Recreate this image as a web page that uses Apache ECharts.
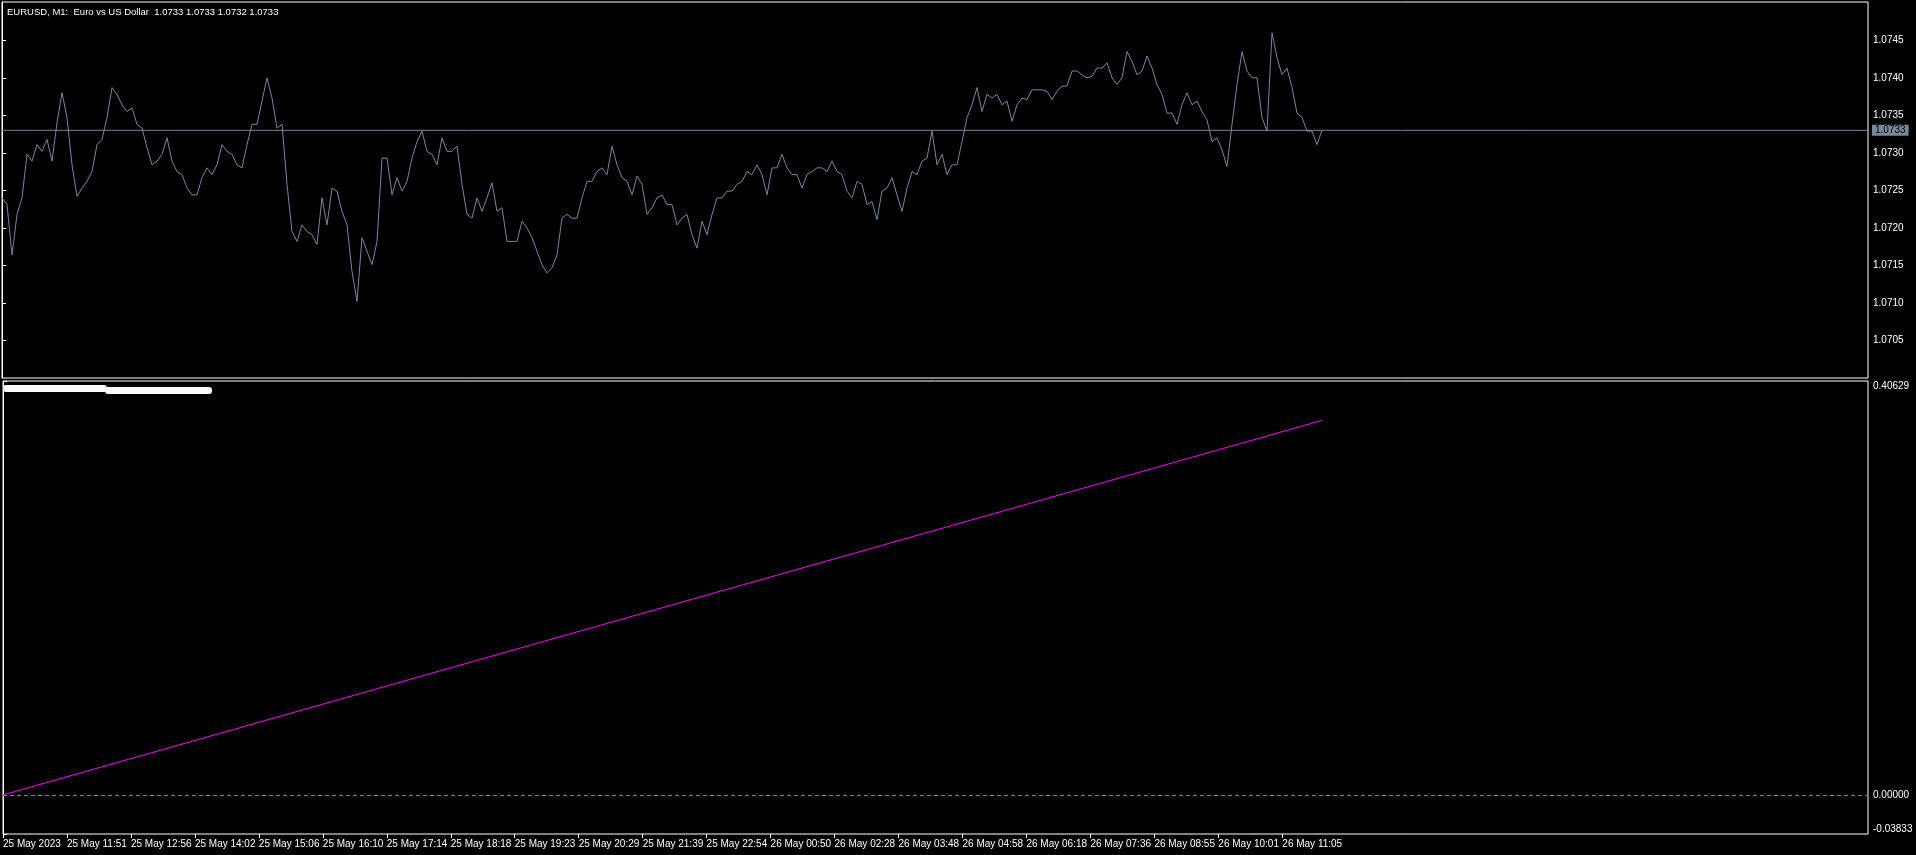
<!DOCTYPE html>
<html>
<head>
<meta charset="utf-8">
<title>EURUSD M1</title>
<script src="https://cdn.jsdelivr.net/npm/echarts@6/dist/echarts.min.js"></script>
<style>
  html, body { margin: 0; padding: 0; background: #000; }
  #main { width: 1916px; height: 855px; }
</style>
</head>
<body>
<div id="main"></div>
<script type="text/javascript">
// close prices, one every 5 bars (1 bar = 1 px)
var closePrices = [
  1.07240,1.07231,1.07164,1.07218,1.07240,1.07298,1.07289,1.07311,1.07302,1.07318,1.07289,1.07340,1.07380,1.07347,1.07284,1.07242,1.07253,1.07262,1.07275,1.07311,1.07318,1.07347,1.07387,1.07378,1.07364,1.07355,1.07360,1.07338,1.07333,1.07307,1.07284,1.07289,1.07298,1.07320,1.07289,1.07275,1.07271,1.07253,1.07244,1.07244,1.07267,1.07280,1.07271,1.07284,1.07311,1.07302,1.07298,1.07284,1.07280,1.07311,1.07338,1.07338,1.07369,1.07400,1.07373,1.07333,1.07338,1.07258,1.07195,1.07182,1.07204,1.07195,1.07191,1.07178,1.07240,1.07204,1.07253,1.07249,1.07222,
  1.07204,1.07142,1.07102,1.07187,1.07169,1.07151,1.07182,1.07293,1.07293,1.07244,1.07267,1.07249,1.07262,1.07293,1.07315,1.07329,1.07302,1.07298,1.07284,1.07320,1.07302,1.07302,1.07309,1.07258,1.07218,1.07213,1.07240,1.07222,1.07240,1.07260,1.07222,1.07227,1.07182,1.07182,1.07182,1.07209,1.07200,1.07187,1.07169,1.07151,1.07140,1.07147,1.07164,1.07213,1.07218,1.07213,1.07213,1.07240,1.07262,1.07262,1.07275,1.07280,1.07271,1.07309,1.07284,1.07267,1.07262,1.07244,1.07269,1.07258,1.07218,1.07227,1.07240,1.07244,1.07231,1.07231,
  1.07204,1.07213,1.07218,1.07191,1.07173,1.07209,1.07191,1.07218,1.07240,1.07240,1.07249,1.07249,1.07258,1.07262,1.07275,1.07271,1.07284,1.07271,1.07244,1.07280,1.07280,1.07298,1.07280,1.07271,1.07271,1.07253,1.07271,1.07275,1.07280,1.07280,1.07275,1.07289,1.07275,1.07271,1.07249,1.07240,1.07262,1.07258,1.07231,1.07235,1.07211,1.07249,1.07253,1.07267,1.07244,1.07222,1.07253,1.07275,1.07271,1.07289,1.07293,1.07329,1.07284,1.07298,1.07271,1.07284,1.07284,1.07315,1.07347,1.07364,1.07387,1.07355,1.07378,1.07373,1.07378,1.07364,
  1.07369,1.07342,1.07364,1.07373,1.07371,1.07384,1.07384,1.07384,1.07382,1.07371,1.07382,1.07389,1.07389,1.07409,1.07409,1.07404,1.07400,1.07402,1.07413,1.07413,1.07420,1.07400,1.07391,1.07400,1.07435,1.07422,1.07404,1.07409,1.07429,1.07413,1.07391,1.07378,1.07353,1.07353,1.07338,1.07364,1.07380,1.07364,1.07369,1.07355,1.07344,1.07315,1.07320,1.07304,1.07282,1.07338,1.07391,1.07435,1.07409,1.07400,1.07400,1.07347,1.07329,1.07460,1.07427,1.07404,1.07413,1.07387,1.07353,1.07347,1.07329,1.07329,1.07311,1.07330
];
var barStep = 5;

var timeLabels = ['25 May 2023', '25 May 11:51', '25 May 12:56', '25 May 14:02', '25 May 15:06', '25 May 16:10',
  '25 May 17:14', '25 May 18:18', '25 May 19:23', '25 May 20:29', '25 May 21:39', '25 May 22:54',
  '26 May 00:50', '26 May 02:28', '26 May 03:48', '26 May 04:58', '26 May 06:18', '26 May 07:36',
  '26 May 08:55', '26 May 10:01', '26 May 11:05'];
var labelEvery = 64; // bars between two time labels

var priceTicks = [1.0705, 1.0710, 1.0715, 1.0720, 1.0725, 1.0730, 1.0735, 1.0740, 1.0745];
var lastPrice = 1.0733;

// indicator pane: straight line from first to last bar
var indicatorValues = [0, 0.3677];
var indicatorTicks = [-0.03833, 0, 0.40629];

var chartTitle = 'EURUSD, M1:  Euro vs US Dollar  1.0733 1.0733 1.0732 1.0733';

var myChart = echarts.init(document.getElementById('main'));

var barsShown = 1866;
var lastBar = (closePrices.length - 1) * barStep;
var priceData = closePrices.map(function (p, i) { return [i * barStep, p]; });
var indicatorData = [[0, indicatorValues[0]], [lastBar, indicatorValues[1]]];
var timeTickBars = timeLabels.map(function (t, i) { return i * labelEvery; });

var fontName = 'Liberation Sans';
var white = '#ffffff';
var slate = '#778899';

var option = {
    backgroundColor: '#000000',
    animation: false,
    title: {
        text: chartTitle,
        left: 2,
        top: 2,
        textStyle: { color: white, fontSize: 9.5, fontWeight: 'normal', fontFamily: fontName }
    },
    grid: [
        { left: 2, right: 48, top: 2, bottom: 477, show: true, borderColor: white, borderWidth: 1 },
        { left: 2, right: 48, top: 381, bottom: 21, show: true, borderColor: white, borderWidth: 1 }
    ],
    xAxis: [
        { type: 'value', gridIndex: 0, min: 0, max: barsShown, show: false },
        {
            type: 'value', gridIndex: 1, min: 0, max: barsShown,
            axisLine: { show: false, onZero: false },
            splitLine: { show: false },
            axisTick: { show: true, customValues: timeTickBars, length: 4, lineStyle: { color: white } },
            axisLabel: {
                customValues: timeTickBars, align: 'left', margin: 5,
                color: white, fontSize: 10, fontFamily: fontName,
                formatter: function (v) { return timeLabels[Math.round(v / labelEvery)] || ''; }
            }
        }
    ],
    yAxis: [
        {
            type: 'value', gridIndex: 0, position: 'right', min: 1.0700, max: 1.07501,
            axisLine: { show: true, lineStyle: { color: white } },
            splitLine: { show: false },
            axisTick: { show: true, customValues: priceTicks, length: 4, lineStyle: { color: white } },
            axisLabel: {
                customValues: priceTicks, margin: 5, color: white, fontSize: 10, fontFamily: fontName,
                formatter: function (v) { return v.toFixed(4); }
            }
        },
        {
            type: 'value', gridIndex: 1, position: 'right', min: indicatorTicks[0], max: indicatorTicks[2],
            axisLine: { show: true, lineStyle: { color: white } },
            splitLine: { show: false },
            axisTick: { show: true, customValues: indicatorTicks, length: 4, lineStyle: { color: white } },
            axisLabel: {
                customValues: indicatorTicks, margin: 5, color: white, fontSize: 10, fontFamily: fontName,
                verticalAlignMaxLabel: 'top', verticalAlignMinLabel: 'bottom',
                formatter: function (v) { return v.toFixed(5); }
            }
        }
    ],
    series: [
        {
            name: 'EURUSD',
            type: 'line',
            xAxisIndex: 0,
            yAxisIndex: 0,
            data: priceData,
            showSymbol: false,
            lineStyle: { color: slate, width: 1 }
        },
        {
            // current price line with its tag on the price scale
            name: 'last',
            type: 'line',
            xAxisIndex: 0,
            yAxisIndex: 0,
            data: [[0, lastPrice], [barsShown, lastPrice]],
            showSymbol: false,
            silent: true,
            lineStyle: { color: slate, width: 1 },
            endLabel: {
                show: true, distance: 4,
                formatter: function () { return lastPrice.toFixed(4); },
                backgroundColor: slate, color: '#000', fontSize: 10, fontFamily: fontName,
                padding: [1, 3, 0, 3]
            }
        },
        {
            name: 'indicator',
            type: 'line',
            xAxisIndex: 1,
            yAxisIndex: 1,
            data: indicatorData,
            showSymbol: false,
            lineStyle: { color: '#ff00ff', width: 1 },
            markLine: {
                silent: true,
                symbol: 'none',
                lineStyle: { color: '#808080', type: [4, 3], width: 1 },
                label: { show: false },
                data: [{ yAxis: 0 }]
            }
        }
    ],
    graphic: [
        { type: 'rect', shape: { x: 3, y: 385, width: 104, height: 7, r: 3 }, style: { fill: white } },
        { type: 'rect', shape: { x: 105, y: 387, width: 107, height: 7, r: 3 }, style: { fill: white } }
    ]
};

myChart.setOption(option);
</script>
</body>
</html>
